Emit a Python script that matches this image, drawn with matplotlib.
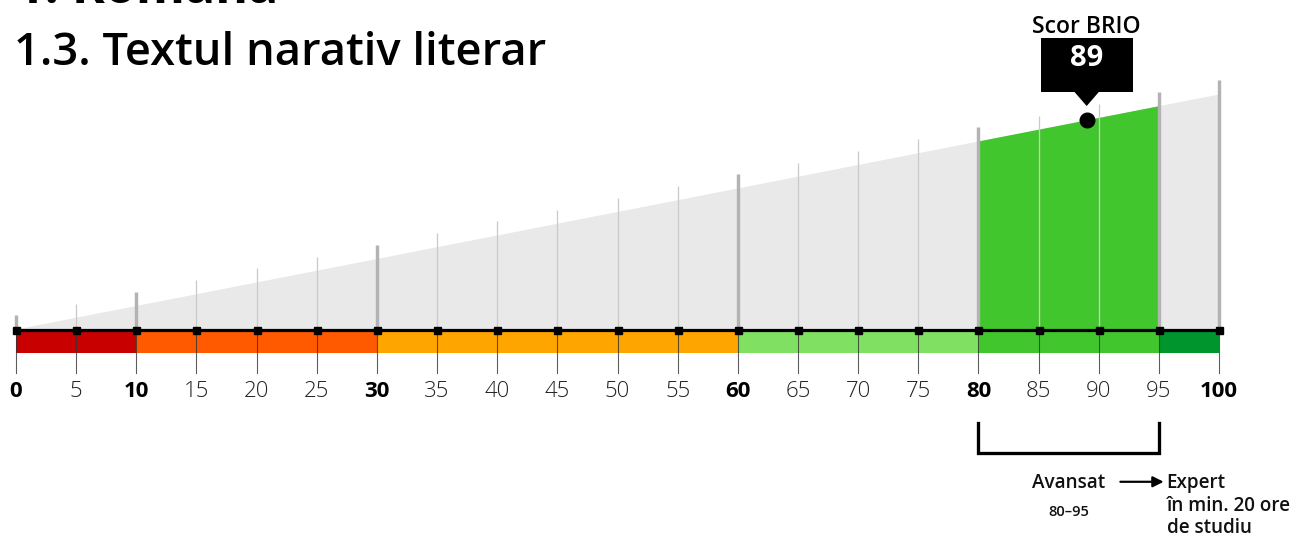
import matplotlib
matplotlib.use("Agg")
import matplotlib.pyplot as plt
from matplotlib.patches import Rectangle, Polygon

plt.rcParams['font.family'] = ['Open Sans', 'DejaVu Sans']

# data
heading = "1. Română"
title = "1.3. Textul narativ literar"
score = 89
score_label = "Scor BRIO"
ticks = list(range(0, 101, 5))
band_edges = [0, 10, 30, 60, 80, 95, 100]
band_colors = ['#c80000', '#ff5a00', '#ffa500', '#80e062', '#42c62d', '#00962d']
bold_ticks = [0, 10, 30, 60, 80, 100]
level_range = (80, 95)
level_name = "Avansat"
level_span = "80–95"
next_level = ["Expert", "în min. 20 ore", "de studiu"]

W, H = 1298, 541
PX0, PXU = 16.0, 12.03      # pixel of score 0, pixels per score unit
PY0, PYU = 329.5, 2.35      # baseline pixel, pixels per height unit


def px(v):
    return v * 0.72  # pixels -> points at dpi 100


fig = plt.figure(figsize=(W / 100, H / 100), dpi=100)
ax = fig.add_axes([0, 0, 1, 1])
ax.set_xlim((0 - PX0) / PXU, (W - PX0) / PXU)
ax.set_ylim((PY0 - H) / PYU, PY0 / PYU)
ax.axis('off')

lo, hi = ticks[0], ticks[-1]

# grey wedge and reached-level green slice
ax.add_patch(Polygon([(lo, 0), (hi, hi), (hi, 0)], closed=True, color='#e9e9e9', lw=0, zorder=1))
a, b = level_range
ax.add_patch(Polygon([(a, 0), (a, a), (b, b), (b, 0)], closed=True, color='#42c62d', lw=0, zorder=2))

# vertical guide lines above the wedge
for t in ticks:
    if t in band_edges:
        ax.plot([t, t], [0, t + 6], color='#b3b3b3', lw=px(3.4), solid_capstyle='butt', zorder=3)
    else:
        ax.plot([t, t], [0, t + 6], color='#cacaca', lw=px(1.3), solid_capstyle='butt', zorder=3)

# coloured band bar
for i in range(len(band_colors)):
    ax.add_patch(Rectangle((band_edges[i], -10.1), band_edges[i + 1] - band_edges[i], 10.1,
                           color=band_colors[i], lw=0, zorder=4))

# tick lines under the axis
for t in ticks:
    ax.plot([t, t], [0, -18.4], color='#333333', lw=px(1.1), alpha=0.8, zorder=5)

# axis line with square markers
ax.plot([lo, hi], [0, 0], color='black', lw=px(3.2), zorder=6, solid_capstyle='butt')
ax.plot(ticks, [0] * len(ticks), ls='none', marker='s', ms=px(7), color='black', zorder=7)

# tick labels
for t in ticks:
    if t in bold_ticks:
        ax.text(t, -28.9, str(t), ha='center', va='baseline', fontsize=16, fontweight='bold', zorder=8)
    else:
        ax.text(t, -28.9, str(t), ha='center', va='baseline', fontsize=16, fontweight='light',
                color='#222222', zorder=8)

# score marker and callout
ax.plot([score], [score], marker='o', ms=px(14.6), color='black', zorder=9)
hw = 3.83
ax.add_patch(Rectangle((score - hw, score + 12.2), 2 * hw, 23.0, color='black', lw=0, zorder=9))
ax.add_patch(Polygon([(score - 1.05, score + 12.3), (score + 1.05, score + 12.3), (score, score + 6.1)],
                     closed=True, color='black', lw=0, zorder=9))
ax.text(score, score + 23.3, str(score), ha='center', va='baseline', color='white',
        fontsize=21, fontweight='bold', zorder=10)
ax.text(score, score + 37.2, score_label, ha='center', va='baseline', fontsize=16.5,
        fontweight='semibold', zorder=10)

# bracket under the reached level
ax.plot([a, a, b, b], [-39.8, -52.7, -52.7, -39.8], color='black', lw=px(3.3),
        solid_joinstyle='miter', zorder=6)
mid = (a + b) / 2
ax.text(mid, -67.6, level_name, ha='center', va='baseline', fontsize=13.6, fontweight='semibold',
        color='#111111')
ax.text(mid, -79.4, level_span, ha='center', va='baseline', fontsize=10.5, fontweight='semibold',
        color='#111111')
ax.annotate('', xy=(b + 0.4, -64.8), xytext=(b - 3.2, -64.8),
            arrowprops=dict(arrowstyle='-|>', color='black', lw=px(2.2), mutation_scale=16,
                            shrinkA=0, shrinkB=0))
for i, line in enumerate(next_level):
    ax.text(b + 0.65, -67.6 - i * 9.55, line, ha='left', va='baseline', fontsize=13.6,
            fontweight='semibold', color='#111111')

# headings
fig.text(16 / W, 1 - 3.3 / H, heading, fontsize=36, fontweight='bold', va='baseline', ha='left')
fig.text(14 / W, 1 - 65 / H, title, fontsize=32.6, fontweight='semibold', va='baseline', ha='left')

fig.savefig('out.png', dpi=100)
